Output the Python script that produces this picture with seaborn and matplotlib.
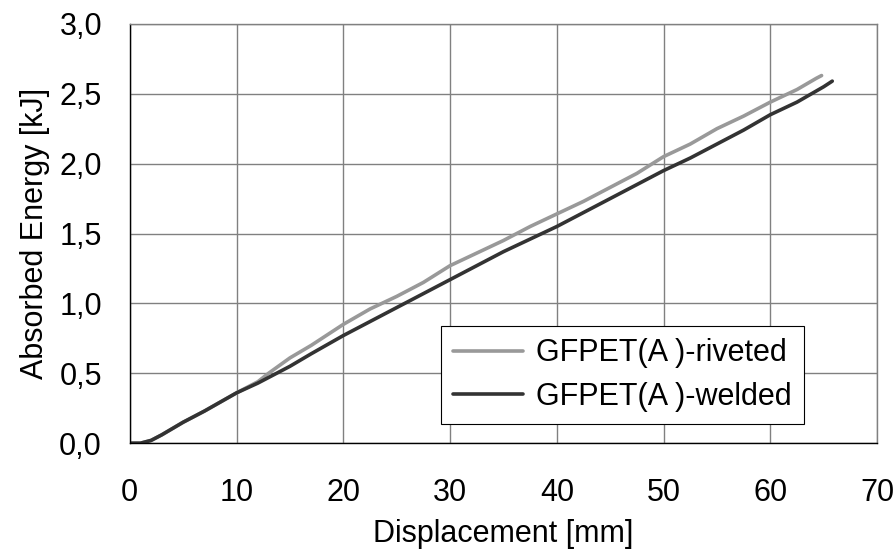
import matplotlib
matplotlib.use("Agg")
import matplotlib.pyplot as plt
import matplotlib.ticker as mticker
import seaborn as sns
import pandas as pd

riveted_x = [0, 1, 2, 3, 5, 7, 10, 12, 13, 15, 17, 20, 22.5, 25, 27.5, 30, 32.5, 35, 37.5, 40, 42.5, 45, 47.5, 50, 52.5, 55, 57.5, 60, 62.5, 64.3, 64.8]
riveted_y = [0, 0.0, 0.02, 0.06, 0.15, 0.23, 0.36, 0.44, 0.5, 0.61, 0.7, 0.85, 0.96, 1.05, 1.15, 1.27, 1.36, 1.45, 1.55, 1.64, 1.73, 1.83, 1.93, 2.05, 2.14, 2.25, 2.34, 2.44, 2.53, 2.61, 2.63]
welded_x = [0, 1, 2, 3, 5, 7, 10, 12, 13, 15, 17, 20, 22.5, 25, 27.5, 30, 32.5, 35, 37.5, 40, 42.5, 45, 47.5, 50, 52.5, 55, 57.5, 60, 62.5, 65, 65.8]
welded_y = [0, 0.0, 0.02, 0.06, 0.15, 0.23, 0.36, 0.43, 0.47, 0.55, 0.64, 0.77, 0.87, 0.97, 1.07, 1.17, 1.27, 1.37, 1.46, 1.55, 1.65, 1.75, 1.85, 1.95, 2.04, 2.14, 2.24, 2.35, 2.44, 2.55, 2.59]
labels = ["GFPET(A )-riveted", "GFPET(A )-welded"]
colors = ["#999999", "#333333"]

df = pd.concat([
    pd.DataFrame({"x": riveted_x, "y": riveted_y, "s": labels[0]}),
    pd.DataFrame({"x": welded_x, "y": welded_y, "s": labels[1]}),
])

sns.set_style("white")
plt.rcParams['font.family'] = ['Liberation Sans', 'DejaVu Sans']
plt.rcParams['text.color'] = 'black'
plt.rcParams['axes.labelcolor'] = 'black'
plt.rcParams['xtick.color'] = 'black'
plt.rcParams['ytick.color'] = 'black'

fig = plt.figure(figsize=(8.95, 5.54), dpi=100)
ax = fig.add_axes([0.145, 0.2, 0.835, 0.757])
sns.lineplot(data=df, x="x", y="y", hue="s", palette=colors, linewidth=2.6,
             ax=ax, sort=False, estimator=None)

ax.set_xlim(0, 70)
ax.set_ylim(0, 3.0)
ax.set_xticks(range(0, 71, 10))
ax.set_yticks([i * 0.5 for i in range(7)])
ax.yaxis.set_major_formatter(mticker.FuncFormatter(lambda v, p: f"{v:.1f}".replace(".", ",")))
ax.grid(True, color="#808080", linewidth=1.0)
ax.set_axisbelow(True)
for s in ["top", "right"]:
    ax.spines[s].set_color("#808080")
    ax.spines[s].set_linewidth(1.0)
for s in ["left", "bottom"]:
    ax.spines[s].set_color("#000000")
    ax.spines[s].set_linewidth(1.0)
ax.tick_params(axis="both", direction="out", length=7, width=1, color="#000000",
               labelsize=22, labelcolor="black")
ax.tick_params(axis="x", pad=18)
ax.tick_params(axis="y", pad=13)
ax.set_xlabel("Displacement [mm]", fontsize=22, labelpad=8, color="black")
ax.set_ylabel("Absorbed Energy [kJ]", fontsize=22, labelpad=7, color="black")

leg = ax.legend(loc="center", bbox_to_anchor=(0.659, 0.162), fontsize=22,
                frameon=True, fancybox=False, framealpha=1, edgecolor="#000000",
                handlelength=2.3, handletextpad=0.4, borderpad=0.4, labelspacing=0.45)
leg.get_frame().set_linewidth(0.8)
for t in leg.get_texts():
    t.set_color("black")

fig.savefig("out.png", dpi=100)
